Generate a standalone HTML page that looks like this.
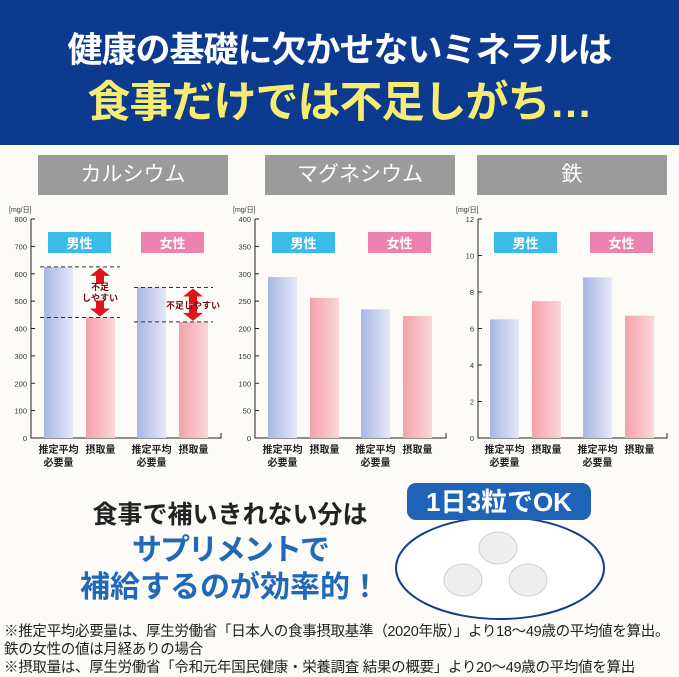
<!DOCTYPE html>
<html><head><meta charset="utf-8">
<style>
body{margin:0;width:679px;height:676px;overflow:hidden;background:#fcfbf7;font-family:"Liberation Sans","Noto Sans CJK JP",sans-serif;position:relative}
.abs{position:absolute}
.tab{position:absolute;top:155px;height:40px;background:#9b9b9b;color:#fff;font-size:21px;text-align:center;line-height:40px}
.fn{position:absolute;left:4px;font-size:14.5px;line-height:17px;color:#222;white-space:nowrap;letter-spacing:-0.3px}
.msg{position:absolute;left:40px;width:380px;text-align:center;font-weight:bold;line-height:1;white-space:nowrap}
</style></head><body>
<div class="abs" style="left:0;top:0;width:679px;height:145px;background:#0c3a8f"></div>
<div class="abs" style="left:0;top:22px;width:679px;text-align:center;color:#fff;font-size:35px;font-weight:bold;letter-spacing:-1px">健康の基礎に欠かせないミネラルは</div>
<div class="abs" style="left:0;top:68px;width:679px;text-align:center;color:#f6ec72;font-size:43px;font-weight:bold;letter-spacing:-1px">食事だけでは不足しがち…</div>
<div class="tab" style="left:38px;width:190px">カルシウム</div>
<div class="tab" style="left:265px;width:190px">マグネシウム</div>
<div class="tab" style="left:477px;width:190px">鉄</div>
<svg id="charts" class="abs" style="left:0;top:0" width="679" height="480">
<defs>
<linearGradient id="gb" x1="0" x2="1"><stop offset="0" stop-color="#a9b6e2"/><stop offset="1" stop-color="#e4e8f6"/></linearGradient>
<linearGradient id="gp" x1="0" x2="1"><stop offset="0" stop-color="#f3a2a9"/><stop offset="1" stop-color="#fbd6d8"/></linearGradient>
</defs>
</svg>
<div class="msg" style="top:503px;font-size:25px;color:#222">食事で補いきれない分は</div>
<div class="msg" style="top:536px;font-size:30px;color:#1f69b8;letter-spacing:-2px">サプリメントで</div>
<div class="msg" style="top:573px;font-size:30px;color:#1f69b8">補給するのが効率的！</div>
<svg class="abs" style="left:390px;top:480px" width="220" height="145">
<ellipse cx="110" cy="88" rx="104" ry="51" fill="#fff" stroke="#1a3d8a" stroke-width="2"/>
<rect x="17" y="3" width="184" height="37" rx="9" fill="#1e63b8"/>
<text x="109" y="31" text-anchor="middle" font-size="26" font-weight="bold" fill="#fff" font-family="Liberation Sans,Noto Sans CJK JP,sans-serif">1日3粒でOK</text>
<g fill="#efefef" stroke="#d0d0d0"><ellipse cx="108" cy="68" rx="19" ry="16"/><ellipse cx="73" cy="100" rx="19" ry="16"/><ellipse cx="138" cy="100" rx="19" ry="16"/></g>
</svg>
<div class="fn" style="top:624px">※推定平均必要量は、厚生労働省「日本人の食事摂取基準（2020年版）」より18～49歳の平均値を算出。</div>
<div class="fn" style="top:642px">鉄の女性の値は月経ありの場合</div>
<div class="fn" style="top:660px">※摂取量は、厚生労働省「令和元年国民健康・栄養調査 結果の概要」より20～49歳の平均値を算出</div>
<script>
const categories=["推定平均必要量","摂取量","推定平均必要量","摂取量"];
const calciumValues=[625,440,550,424];
const magnesiumValues=[294,256,235,223];
const ironValues=[6.5,7.5,8.8,6.7];
const calciumTicks=[0,100,200,300,400,500,600,700,800];
const magnesiumTicks=[0,50,100,150,200,250,300,350,400];
const ironTicks=[0,2,4,6,8,10,12];
const svg=document.getElementById('charts');
const NS='http://www.w3.org/2000/svg';
function mk(t,a,txt){const e=document.createElementNS(NS,t);for(const k in a)e.setAttribute(k,a[k]);if(txt!==undefined)e.textContent=txt;svg.appendChild(e);return e;}
function chart(name,ax,axEnd,bx,vals,ticks,boxM,boxF){
  const top=219,bot=438,max=ticks[ticks.length-1];
  const y=v=>bot-(v/max)*(bot-top);
  let t=mk('text',{x:ax-22,y:212,'font-size':7,fill:'#333'},'[mg/日]');
  
  
  let a=mk('path',{d:`M${ax},${top}V${bot}H${axEnd}V${bot-5}`,stroke:'#222',fill:'none','stroke-width':1});
  
  
  ticks.forEach(v=>{
    mk('line',{x1:ax,x2:ax+4,y1:y(v),y2:y(v),stroke:'#222'});
    const l=mk('text',{x:ax-4,y:y(v)+3,'font-size':7.5,'text-anchor':'end',fill:'#333'},v);
    
    
  });
  vals.forEach((v,i)=>{
    const r=mk('rect',{x:bx[i],y:y(v),width:29,height:bot-y(v),fill:i%2?'url(#gp)':'url(#gb)'});
    
    
    const cx=bx[i]+14.5;
    const c=categories[i];
    if(c.length>3){
      mk('text',{x:cx,y:453,'font-size':10,'font-weight':'bold','text-anchor':'middle',fill:'#222'},c.slice(0,4));
      mk('text',{x:cx,y:466,'font-size':10,'font-weight':'bold','text-anchor':'middle',fill:'#222'},c.slice(4));
    } else mk('text',{x:cx,y:453,'font-size':10,'font-weight':'bold','text-anchor':'middle',fill:'#222'},c);
  });
  [[boxM,'#3bbbe8','男性'],[boxF,'#ec82b0','女性']].forEach(([bx0,col,lab])=>{
    const b=mk('rect',{x:bx0,y:232,width:63,height:21,fill:col});
    
    
    mk('text',{x:bx0+31.5,y:248,'font-size':13,'font-weight':'bold','text-anchor':'middle',fill:'#fff'},lab);
  });
  return y;
}
const yc=chart('calcium',31,221,[44,86,137,179],calciumValues,calciumTicks,48,141);
chart('magnesium',255,446,[268,310,361,403],magnesiumValues,magnesiumTicks,272,368);
chart('iron',478,667,[490,532,583,625],ironValues,ironTicks,494,590);
[[0,1,40,120,100],[2,3,134,213,193]].forEach(([a,b,x1,x2,ac])=>{
  const ya=yc(calciumValues[a]),yb=yc(calciumValues[b]);
  mk('line',{x1:x1,x2:x2,y1:ya,y2:ya,stroke:'#333','stroke-dasharray':'4,3'});
  mk('line',{x1:x1,x2:x2,y1:yb,y2:yb,stroke:'#333','stroke-dasharray':'4,3'});
  const ar=mk('path',{d:`M${ac},${ya+1}l-10,8h6v8h8v-8h6z M${ac},${yb-1}l-10,-8h6v-8h8v8h6z`,fill:'#e0141b'});
  
  
});
const m1=(yc(calciumValues[0])+yc(calciumValues[1]))/2;
mk('text',{x:100,y:m1-2,'font-size':9,'text-anchor':'middle',fill:'#6b1010','font-weight':'bold'},'不足');
mk('text',{x:100,y:m1+9,'font-size':9,'text-anchor':'middle',fill:'#6b1010','font-weight':'bold'},'しやすい');
const m2=(yc(calciumValues[2])+yc(calciumValues[3]))/2;
mk('text',{x:193,y:m2+4,'font-size':9,'text-anchor':'middle',fill:'#6b1010','font-weight':'bold'},'不足しやすい');
</script>
</body></html>
